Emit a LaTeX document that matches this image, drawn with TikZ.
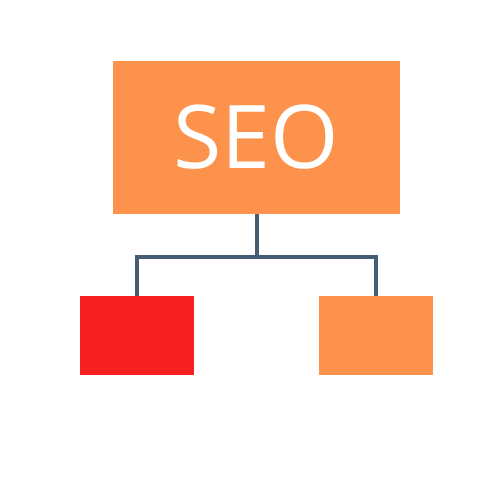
\documentclass[tikz,border=0pt]{standalone}
\usepackage{fontspec}
\usepackage{tikz}
\usetikzlibrary{positioning}
\newfontfamily\seofont{Open Sans}
\definecolor{seoorange}{RGB}{253,146,77}
\definecolor{seored}{RGB}{248,32,32}
\definecolor{seoline}{RGB}{69,94,115}
\tikzstyle{topbox} = [rectangle, fill=seoorange, minimum width=5.74cm, minimum height=3.06cm, inner sep=0pt, text=white, font=\seofont\fontsize{50}{60}\selectfont]
\tikzstyle{leaf} = [rectangle, minimum width=2.28cm, minimum height=1.58cm, inner sep=0pt]
\tikzstyle{line} = [draw, seoline, line width=0.08cm]
\begin{document}
\begin{tikzpicture}
\useasboundingbox[fill=white] (0,0) rectangle (10,-10);
\node[topbox] (seo) at (5.13,-2.75) {SEO};
\node[leaf,fill=seored] (leftbox) at (2.74,-6.71) {};
\node[leaf,fill=seoorange] (rightbox) at (7.52,-6.71) {};
\coordinate[below=0.86cm of seo] (split);

\path[line] (seo) -- (split);
\path[line] (split) -| (leftbox);
\path[line] (split) -| (rightbox);
\end{tikzpicture}
\end{document}
